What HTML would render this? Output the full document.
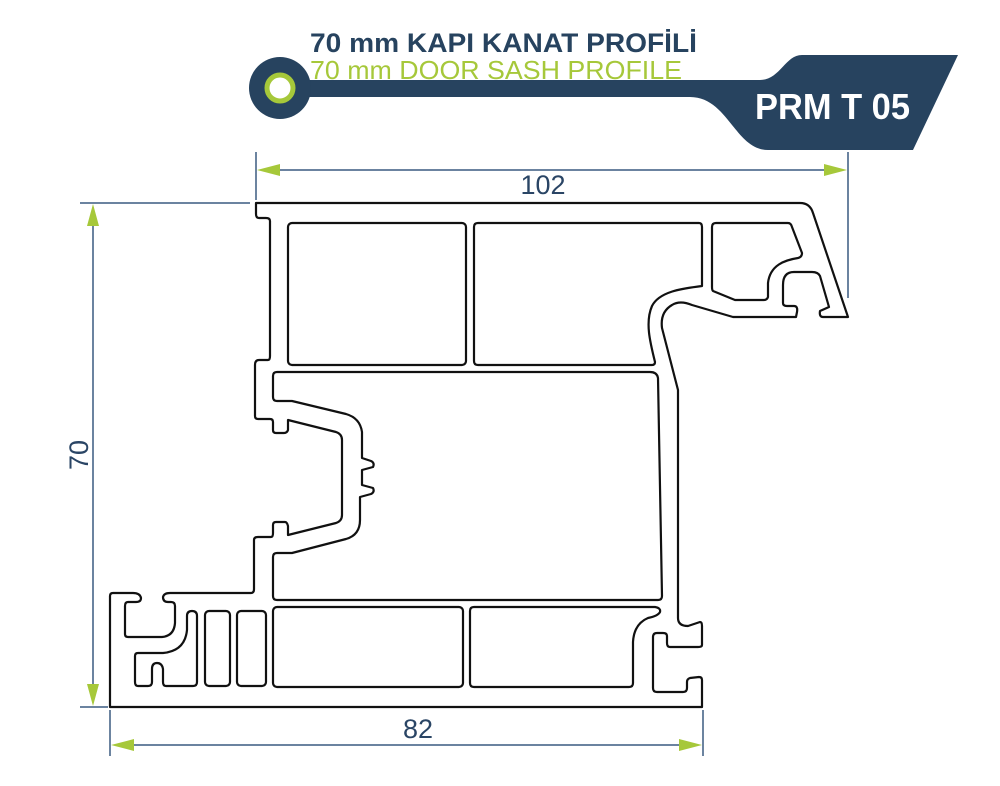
<!DOCTYPE html>
<html><head><meta charset="utf-8"><style>html,body{margin:0;padding:0;background:#fff}svg{display:block}</style></head>
<body>
<svg width="1000" height="786" viewBox="0 0 1000 786" xmlns="http://www.w3.org/2000/svg">
<!-- header -->
<path d="M280,80 H760 C780,80 785,55 802,55 H958 L913,150 H768 C735,150 728,97 690,97 H280 Z" fill="#27435f"/>
<circle cx="280" cy="88" r="31" fill="#27435f"/>
<circle cx="280" cy="88" r="13" fill="#fff" stroke="#a6c83a" stroke-width="5"/>
<text x="310" y="52" font-family="'Liberation Sans Narrow','Liberation Sans',sans-serif" font-weight="bold" font-size="27" fill="#27435f" textLength="387" lengthAdjust="spacingAndGlyphs">70 mm KAPI KANAT PROFİLİ</text>
<text x="310" y="79" font-family="'Liberation Sans Narrow','Liberation Sans',sans-serif" font-size="26" fill="#a6c83a" textLength="372" lengthAdjust="spacingAndGlyphs">70 mm DOOR SASH PROFILE</text>
<text x="755" y="119" font-family="'Liberation Sans Narrow','Liberation Sans',sans-serif" font-weight="bold" font-size="36" fill="#fff" textLength="155" lengthAdjust="spacingAndGlyphs">PRM T 05</text>

<!-- dimensions -->
<g stroke="#3a5a80" stroke-width="1.5" fill="none">
<line x1="256" y1="152" x2="256" y2="200"/>
<line x1="848" y1="152" x2="848" y2="298"/>
<line x1="262" y1="170" x2="842" y2="170"/>
<line x1="80" y1="203" x2="250" y2="203"/>
<line x1="80" y1="707" x2="108" y2="707"/>
<line x1="93" y1="210" x2="93" y2="700"/>
<line x1="110" y1="710" x2="110" y2="756"/>
<line x1="703" y1="710" x2="703" y2="756"/>
<line x1="116" y1="745" x2="697" y2="745"/>
</g>
<g fill="#a6c83a">
<polygon points="257,170 280,164 280,176"/>
<polygon points="847,170 824,164 824,176"/>
<polygon points="93,204 87,226 99,226"/>
<polygon points="93,706 87,684 99,684"/>
<polygon points="111,745 134,739 134,751"/>
<polygon points="702,745 679,739 679,751"/>
</g>
<g font-family="'Liberation Sans',sans-serif" font-size="27" fill="#2a4565">
<text x="543" y="194" text-anchor="middle">102</text>
<text x="418" y="738" text-anchor="middle">82</text>
<text transform="translate(88,455) rotate(-90)" text-anchor="middle">70</text>
</g>

<!-- profile -->
<g fill="none" stroke="#111" stroke-width="2.2" stroke-linejoin="round" stroke-linecap="round">
<path d="M256,203 H800 Q810,203 813,213 L848,317 H823 Q819,317 820,311 L829,307 L820,276 Q818,272 812,272 H794 Q783,272 783,285 V303 Q783,306 787,306 H794 Q798,306 797,312 L796,317 H733 L692,305 Q680,300 672,305 Q660,312 662,328 L678,390 V618 Q678,626 688,626 L700,622 Q702,622 702,626 V645 Q702,647 698,647 H670 Q667,647 667,643 V636 Q667,633 663,633 H657 Q653,633 653,637 V688 Q653,692 657,692 H683 Q687,692 687,688 V682 Q687,679 690,678 L699,677 Q702,677 702,680 V707 H110 V596 Q110,593 113,593 H133 Q140,593 141,598 Q141,602 136,602 H128 Q125,602 125,606 V634 Q125,637 128,637 H162 Q174,636 175,623 V606 Q175,602 171,602 H168 Q163,602 163,597 Q164,593 170,593 H251 Q254,593 254,589 V540 Q254,537 258,537 H271 Q273,537 273,533 V525 Q273,522 276,522 H285 Q287,522 288,526 L288,535 L336,523 Q342,521 342,515 V440 Q342,434 336,432 L288,420 V430 Q287,433 284,433 H276 Q273,433 273,430 V422 Q273,419 270,419 H258 Q255,419 255,416 V365 Q255,360 259,360 H268 Q270,360 270,356 V221 Q270,218 266,218 H259 Q256,218 256,214 Z"/>
<rect x="288" y="223" width="178" height="142" rx="4"/>
<path d="M474,227 Q474,223 478,223 H699 Q702,223 702,227 V286 C688,288 660,290 652,306 C645,322 650,342 655,362 Q655,365 652,365 H478 Q474,365 474,361 Z"/>
<path d="M712,227 Q712,223 716,223 H788 Q791,223 792,227 L802,253 Q802,257 798,258 C785,260 770,265 768,283 V297 Q767,300 764,300 H735 L713,291 Q712,290 712,287 Z"/>
<path d="M277,372 H650 Q657,372 658,378 L662,596 Q662,600 658,600 H277 Q273,600 273,596 V557 Q273,553 277,553 H292 L346,539 Q360,535 360,520 V497 L371,494 Q375,492 373,488 L362,485 V470 L373,467 Q375,463 371,461 L362,458 V432 Q360,418 346,414 L292,401 H277 Q273,401 273,397 V376 Q273,372 277,372 Z"/>
<path d="M135,656 Q135,653 138,653 H163 Q185,651 187,630 V616 Q187,611 192,611 Q197,611 197,616 V682 Q197,686 193,686 H166 Q163,686 163,682 V669 Q162,663 157,663 Q152,663 152,669 V682 Q152,686 148,686 H138 Q135,686 135,682 Z"/>
<rect x="205" y="611" width="25" height="75" rx="4"/>
<rect x="237" y="611" width="29" height="75" rx="4"/>
<rect x="273" y="607" width="190" height="80" rx="4"/>
<path d="M474,607 H655 Q661,608 660,612 Q658,616 648,618 Q634,624 633,642 V683 Q633,687 629,687 H474 Q470,687 470,683 V611 Q470,607 474,607 Z"/>
</g>
</svg>
</body></html>
